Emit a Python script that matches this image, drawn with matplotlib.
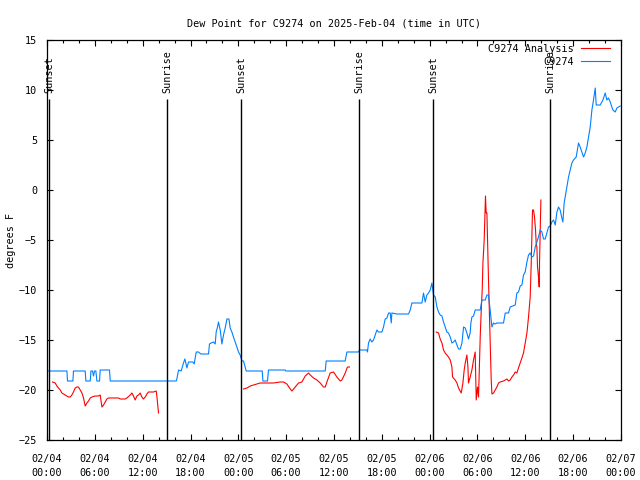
import numpy as np
import matplotlib
matplotlib.use("Agg")
import matplotlib.pyplot as plt
from matplotlib.ticker import MultipleLocator

plt.rcParams['font.family'] = ['DejaVu Sans Mono']
FS = 7.3

# ---------------- data (hours since 2025-02-04 00:00 UTC) ----------------
obs_hours = [0.15, 2.50, 2.57, 3.25, 3.32, 4.79, 4.88, 5.42, 5.51, 5.71, 5.83, 5.96, 6.13, 6.26, 6.59,
             6.67, 7.84, 7.93, 16.21, 16.29, 16.50, 16.83, 17.12, 17.30, 17.55, 17.75, 18.30, 18.46,
             18.72, 19.00, 19.30, 20.26, 20.38, 20.60, 20.89, 21.10, 21.22, 21.39, 21.51, 21.73, 21.94,
             22.14, 22.35, 22.57, 22.82, 22.98, 23.19, 23.39, 23.61, 23.82, 24.02, 24.23, 24.45, 24.65,
             24.86, 24.99, 27.00, 27.08, 27.66, 27.78, 29.88, 29.95, 34.90, 35.02, 37.40, 37.62, 39.07,
             39.20, 40.13, 40.20, 40.33, 40.54, 40.75, 40.96, 41.38, 41.58, 42.01, 42.21, 42.42, 42.64,
             42.84, 43.05, 43.18, 43.26, 43.89, 45.35, 45.56, 45.77, 47.03, 47.23, 47.44, 47.65, 47.85,
             48.07, 48.28, 48.48, 48.70, 48.91, 49.11, 49.32, 49.54, 49.74, 49.95, 50.16, 50.36, 50.58,
             50.79, 50.99, 51.20, 51.42, 51.62, 51.83, 52.05, 52.25, 52.46, 52.67, 52.87, 53.08, 53.17,
             53.30, 53.50, 53.71, 54.34, 54.55, 54.97, 55.18, 55.38, 55.59, 55.81, 56.01, 56.22, 56.43,
             57.26, 57.48, 57.89, 58.10, 58.73, 58.94, 59.14, 59.36, 59.57, 59.77, 59.98, 60.20, 60.40,
             60.61, 60.82, 61.03, 61.24, 61.45, 61.65, 61.87, 62.08, 62.28, 62.49, 62.70, 62.91, 63.12,
             63.33, 63.54, 63.75, 63.96, 64.16, 64.37, 64.58, 64.71, 64.87, 65.00, 65.21, 65.42, 65.63,
             65.84, 66.04, 66.38, 66.67, 66.88, 67.30, 67.51, 67.72, 67.93, 68.14, 68.35, 68.55, 68.77,
             68.89, 69.39, 69.73, 70.02, 70.23, 70.43, 70.65, 70.98, 71.27, 71.49, 71.90]
obs_dewp = [-18.1, -18.1, -19.1, -19.1, -18.1, -18.1, -19.1, -19.1, -18.1, -18.1, -18.6, -18.1, -18.1,
            -19.1, -19.1, -18.0, -18.0, -19.1, -19.1, -18.9, -18.0, -18.1, -17.3, -16.9, -17.8, -17.2,
            -17.2, -17.4, -16.2, -16.2, -16.4, -16.4, -15.4, -15.3, -15.2, -15.4, -14.2, -13.7, -13.2,
            -14.0, -15.4, -14.5, -13.8, -12.9, -12.9, -13.8, -14.2, -14.7, -15.2, -15.7, -16.2, -16.5,
            -17.1, -17.1, -17.7, -18.1, -18.1, -19.1, -19.1, -18.0, -18.0, -18.1, -18.1, -17.1, -17.1,
            -16.2, -16.2, -16.0, -16.0, -16.2, -15.3, -14.9, -15.2, -15.0, -14.0, -14.2, -14.2, -13.7,
            -12.9, -12.8, -12.3, -12.3, -13.3, -12.3, -12.4, -12.4, -12.0, -11.3, -11.3, -10.3, -11.2,
            -10.5, -10.3, -10.0, -9.3, -10.5, -10.7, -11.7, -12.2, -12.5, -12.6, -13.2, -13.7, -14.2,
            -14.3, -14.7, -15.3, -15.2, -15.0, -15.5, -15.9, -15.9, -15.3, -13.7, -13.8, -14.3, -14.9,
            -14.3, -13.3, -12.7, -12.6, -12.0, -12.0, -11.0, -11.0, -10.5, -10.5, -12.0, -13.7, -13.3,
            -13.4, -13.3, -13.3, -12.3, -12.3, -11.7, -11.5, -10.3, -10.2, -9.6, -9.5, -8.5, -8.2, -7.2,
            -6.5, -6.3, -6.7, -6.6, -5.7, -5.2, -4.7, -4.0, -4.2, -4.9, -4.9, -4.3, -3.7, -3.6, -3.2,
            -3.0, -3.5, -2.2, -1.7, -2.0, -2.8, -3.2, -1.3, -0.7, 0.3, 1.3, 2.0, 2.7, 3.0, 3.3, 4.7, 4.3,
            3.3, 3.7, 4.3, 5.3, 6.3, 8.0, 9.0, 10.2, 8.5, 8.5, 9.0, 9.7, 9.0, 9.2, 8.8, 8.0, 7.8, 8.2, 8.4]

ana_hours = [0.69, 1.03, 1.24, 1.44, 1.66, 1.87, 2.28, 2.70, 2.91, 3.12, 3.32, 3.54, 3.75, 3.95, 4.16,
             4.38, 4.58, 4.79, 5.01, 5.21, 5.42, 5.63, 6.05, 6.46, 6.67, 6.89, 7.09, 7.30, 7.51, 7.71,
             8.14, 8.34, 8.97, 9.18, 9.81, 10.02, 10.44, 10.65, 10.85, 11.06, 11.28, 11.48, 11.69, 11.90,
             12.10, 12.32, 12.53, 12.73, 13.36, 13.70, 13.79, 13.91, 13.99,
             19.0,
             24.65, 25.08, 25.49, 25.90, 26.33, 26.74, 28.00, 28.41, 29.25, 29.67, 30.09, 30.51, 30.72,
             31.13, 31.55, 31.97, 32.39, 32.80, 33.02, 33.43, 33.86, 34.27, 34.68, 34.90, 35.11, 35.52,
             35.94, 36.36, 36.78, 36.99, 37.41, 37.69, 37.94,
             43.0,
             48.82, 49.11, 49.32, 49.54, 49.74, 49.95, 50.36, 50.58, 50.79, 50.87, 51.20, 51.42, 51.62,
             51.83, 51.96, 52.17, 52.33, 52.46, 52.67, 52.80, 52.87, 53.08, 53.30, 53.50, 53.71, 53.84,
             54.00, 54.13, 54.25, 54.34, 54.47, 54.59, 54.68, 54.84, 55.00, 55.09, 55.18, 55.38, 55.59,
             55.72, 55.81, 56.01, 56.22, 56.43, 56.64, 56.85, 57.26, 57.69, 57.89, 58.10, 58.32, 58.52,
             58.73, 58.94, 59.14, 59.36, 59.57, 59.77, 59.98, 60.20, 60.40, 60.61, 60.74, 60.82, 60.90,
             61.03, 61.15, 61.28, 61.36, 61.45, 61.53, 61.65, 61.74, 61.78, 61.87, 61.95]
ana_dewp = [-19.2, -19.3, -19.6, -19.8, -20.0, -20.3, -20.5, -20.7, -20.7, -20.5, -20.2, -19.8, -19.7,
            -19.7, -20.0, -20.3, -20.8, -21.6, -21.3, -21.1, -20.8, -20.7, -20.6, -20.6, -20.5, -21.7,
            -21.5, -21.2, -20.9, -20.8, -20.8, -20.8, -20.8, -20.9, -20.9, -20.8, -20.5, -20.3, -20.6,
            -21.0, -20.6, -20.5, -20.3, -20.7, -20.9, -20.7, -20.4, -20.2, -20.2, -20.1, -20.7, -21.7,
            -22.3,
            None,
            -19.9, -19.8, -19.6, -19.5, -19.4, -19.3, -19.3, -19.3, -19.2, -19.2, -19.4, -19.9, -20.1,
            -19.7, -19.3, -19.2, -18.6, -18.3, -18.5, -18.8, -19.0, -19.3, -19.7, -19.7, -19.2, -18.3,
            -18.2, -18.7, -19.1, -19.0, -18.3, -17.7, -17.7,
            None,
            -14.2, -14.3, -14.9, -15.3, -16.0, -16.3, -16.7, -17.0, -17.7, -18.7, -19.0, -19.3, -19.8,
            -20.1, -20.3, -19.3, -18.0, -17.3, -16.5, -17.7, -19.3, -18.7, -18.0, -17.0, -16.2, -21.0,
            -19.7, -20.7, -17.3, -14.7, -12.0, -10.0, -7.3, -5.0, -0.6, -2.3, -2.3, -9.0, -15.3, -19.0,
            -20.4, -20.3, -20.0, -19.7, -19.3, -19.2, -19.1, -18.9, -19.1, -19.0, -18.7, -18.5, -18.2,
            -18.3, -17.8, -17.3, -16.8, -16.3, -15.3, -14.3, -12.7, -10.7, -7.3, -4.7, -2.0, -2.0, -2.7,
            -4.0, -5.3, -5.7, -7.7, -8.7, -9.7, -7.3, -4.0, -1.0]

event_hours = [0.31, 15.08, 24.36, 39.16, 48.46, 63.13]
event_names = ["Sunset", "Sunrise", "Sunset", "Sunrise", "Sunset", "Sunrise"]

tick_hours = list(range(0, 73, 6))
tick_labels = ["02/04\n00:00", "02/04\n06:00", "02/04\n12:00", "02/04\n18:00",
               "02/05\n00:00", "02/05\n06:00", "02/05\n12:00", "02/05\n18:00",
               "02/06\n00:00", "02/06\n06:00", "02/06\n12:00", "02/06\n18:00",
               "02/07\n00:00"]

# ---------------- figure ----------------
fig = plt.figure(figsize=(6.4, 4.8), dpi=100)
ax = fig.add_axes([47/640, 40/480, 574/640, 400/480])

ana_y = np.array([np.nan if v is None else v for v in ana_dewp], dtype=float)
ax.plot(ana_hours, ana_y, color='#ff0000', lw=0.8, label='C9274 Analysis')
ax.plot(obs_hours, obs_dewp, color='#0080ff', lw=0.8, label='C9274')

for h, name in zip(event_hours, event_names):
    ax.vlines(h, -25, 9.1, color='black', lw=1.0)
    ax.text(h, 9.7, name, rotation=90, ha='center', va='bottom', fontsize=FS)

ax.set_xlim(0, 72)
ax.set_ylim(-25, 15)
ax.set_xticks(tick_hours)
ax.set_xticklabels(tick_labels, fontsize=FS, linespacing=1.5)
ax.xaxis.set_minor_locator(MultipleLocator(2))
ax.set_yticks(np.arange(-25, 16, 5))
ax.tick_params(axis='y', labelsize=FS)
ax.tick_params(which='both', direction='in', top=True, right=True, width=0.8)
ax.tick_params(which='major', length=4.5)
ax.tick_params(which='minor', length=2.2)
ax.tick_params(axis='x', which='major', pad=10)
ax.tick_params(axis='y', which='major', pad=7)
for s in ax.spines.values():
    s.set_linewidth(0.9)

ax.set_ylabel('degrees F', fontsize=FS, labelpad=2)
ax.set_title('Dew Point for C9274 on 2025-Feb-04 (time in UTC)', fontsize=FS, pad=10)

ax.legend(loc='upper right', bbox_to_anchor=(1 - 11/574, 1 - 4/400), frameon=False,
          markerfirst=False, fontsize=FS, handlelength=2.9, handletextpad=0.7,
          labelspacing=0.25, borderpad=0, borderaxespad=0)

fig.savefig('out.png', dpi=100)
